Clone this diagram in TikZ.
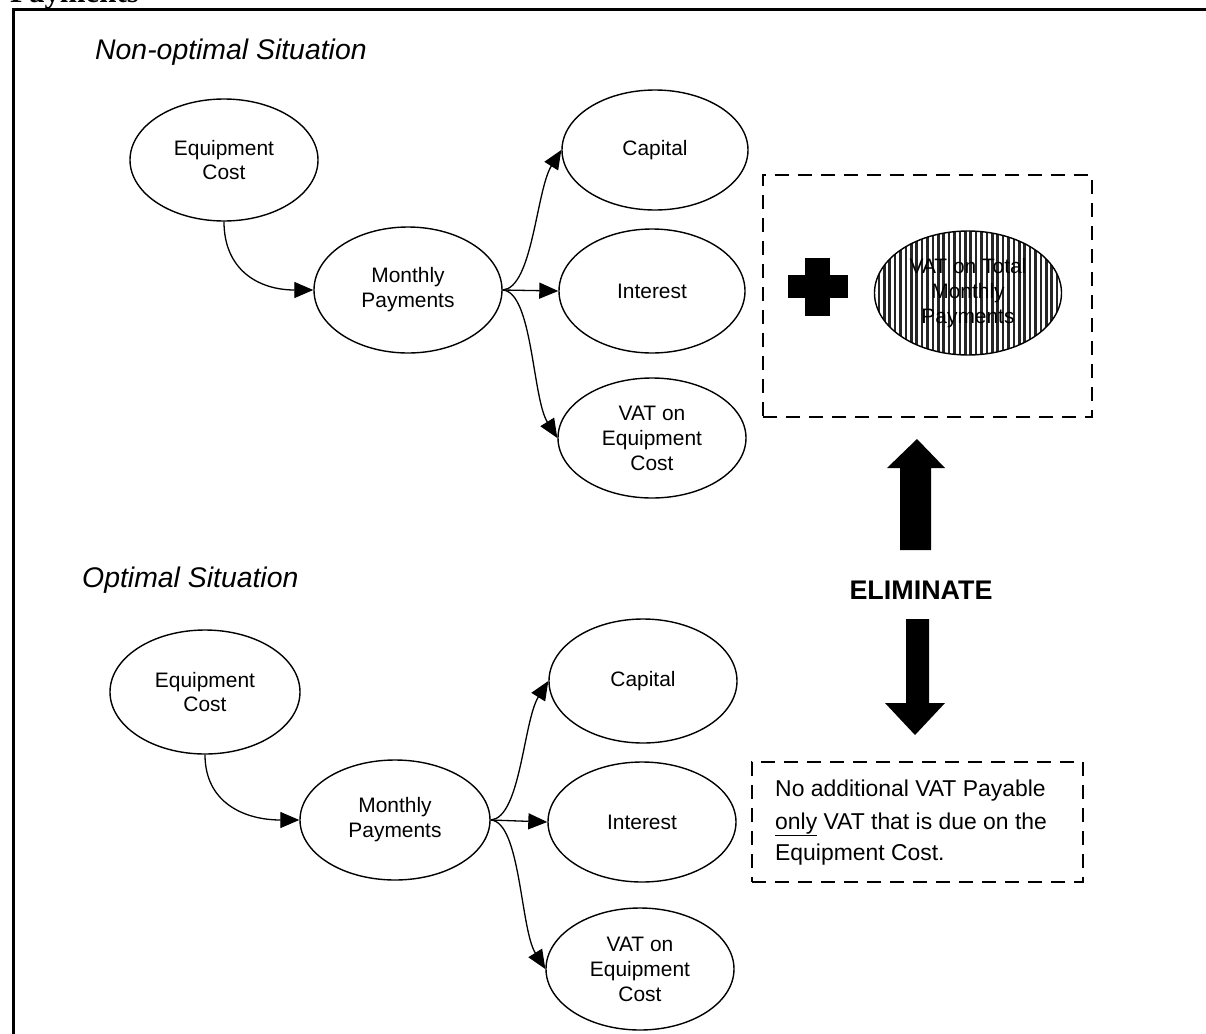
\documentclass[tikz,border=0pt]{standalone}
\usepackage{fontspec}
\setmainfont{Liberation Sans}
\newfontfamily\serifbf{Liberation Serif}
\usetikzlibrary{shapes.geometric,arrows.meta}
\begin{document}
\begin{tikzpicture}[x=1bp,y=-1bp,
  ell/.style={ellipse,draw,line width=1.4bp,inner sep=0pt,align=center,
    font=\fontsize{21}{25}\selectfont},
  arr/.style={line width=1.3bp,-{Triangle[length=19bp,width=16bp]}},
  dbox/.style={draw,line width=2.2bp,dash pattern=on 14bp off 9bp,inner sep=0pt},
  title/.style={anchor=west,inner sep=0pt,font=\fontsize{28.5}{32}\selectfont\itshape},
  boxtext/.style={anchor=base west,inner sep=0pt,font=\fontsize{23}{28}\selectfont},
  bigarrow/.style={fill=black}
]
\clip (0,0) rectangle (1206,1034);
\fill[white] (0,0) rectangle (1206,1034);

% page header remnant and frame
\node[anchor=base west,inner sep=0pt,font=\fontsize{31}{34}\serifbf\bfseries] (hdr) at (10,2) {Payments};
\draw[line width=3bp] (13,1040) -- (13,9) -- (1212,9);

% titles
\node[title] (t1) at (95,52) {Non-optimal Situation};
\node[title] (t2) at (82,580) {Optimal Situation};

% top diagram
\node[ell,minimum width=188bp,minimum height=122bp] (ec1) at (224,160) {Equipment\\Cost};
\node[ell,minimum width=188bp,minimum height=126bp] (mp1) at (408,290) {Monthly\\Payments};
\node[ell,minimum width=186bp,minimum height=120bp] (cap1) at (655,150) {Capital};
\node[ell,minimum width=186bp,minimum height=124bp] (int1) at (652,291) {Interest};
\node[ell,minimum width=188bp,minimum height=120bp] (vat1) at (652,438) {VAT on\\Equipment\\Cost};

\draw[arr] (ec1.south) .. controls +(0,48) and +(-55,0) .. (mp1.west);
\draw[arr] (mp1.east) .. controls +(30,-2) and +(-25,40) .. (cap1.west);
\draw[arr] (mp1.east) -- (int1.west);
\draw[arr] (mp1.east) .. controls +(30,2) and +(-25,-40) .. (vat1.west);

% bottom diagram
\node[ell,minimum width=190bp,minimum height=124bp] (ec2) at (205,692) {Equipment\\Cost};
\node[ell,minimum width=190bp,minimum height=120bp] (mp2) at (395,820) {Monthly\\Payments};
\node[ell,minimum width=188bp,minimum height=124bp] (cap2) at (643,681) {Capital};
\node[ell,minimum width=188bp,minimum height=120bp] (int2) at (642,822) {Interest};
\node[ell,minimum width=188bp,minimum height=122bp] (vat2) at (640,969) {VAT on\\Equipment\\Cost};

\draw[arr] (ec2.south) .. controls +(0,48) and +(-55,0) .. (mp2.west);
\draw[arr] (mp2.east) .. controls +(30,-2) and +(-25,40) .. (cap2.west);
\draw[arr] (mp2.east) -- (int2.west);
\draw[arr] (mp2.east) .. controls +(30,2) and +(-25,-40) .. (vat2.west);

% top dashed box with plus and hatched ellipse
\node[dbox,minimum width=329bp,minimum height=242bp] (box1) at (927.5,296) {};
\fill (805,258) rectangle (830,316);
\fill (788,275) rectangle (848,298);
\node[ellipse,draw,line width=1.4bp,minimum width=187bp,minimum height=124bp,inner sep=0pt,
  align=center,font=\fontsize{21}{25}\selectfont,
  path picture={\foreach \k in {0,...,37}
    \draw[line width=2.6bp,black!85] ([xshift={(\k*5.4-100)*1bp}]path picture bounding box.north)
      -- ([xshift={(\k*5.4-100)*1bp}]path picture bounding box.south);}]
  (vt) at (968,293) {VAT on Total\\Monthly\\Payments};

% eliminate arrows
\fill[bigarrow] (917,439) -- (945,468) -- (931,468) -- (931,550) -- (900,550) -- (900,468) -- (887,468) -- cycle;
\node[inner sep=0pt,font=\fontsize{27}{30}\selectfont\bfseries] (elim) at (921,590) {ELIMINATE};
\fill[bigarrow] (915,735) -- (945,703) -- (929,703) -- (929,619) -- (906,619) -- (906,703) -- (885,703) -- cycle;

% bottom dashed box
\node[dbox,minimum width=331bp,minimum height=120bp] (box2) at (917.5,822) {};
\node[boxtext] (nb1) at (775,796) {No additional VAT Payable};
\node[boxtext] (nb2) at (775,829) {\underline{only} VAT that is due on the};
\node[boxtext] (nb3) at (775,860) {Equipment Cost.};
\end{tikzpicture}
\end{document}
